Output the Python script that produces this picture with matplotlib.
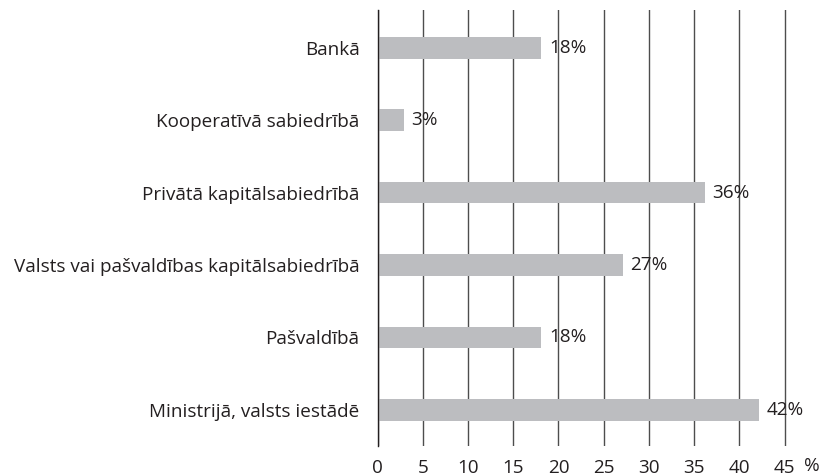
import matplotlib.pyplot as plt

# dati
kategorijas = ['Bankā', 'Kooperatīvā sabiedrībā', 'Privātā kapitālsabiedrībā',
               'Valsts vai pašvaldības kapitālsabiedrībā', 'Pašvaldībā',
               'Ministrijā, valsts iestādē']
vertibas = [18.1, 2.9, 36.2, 27.1, 18.1, 42.2]
etiketes = ['18%', '3%', '36%', '27%', '18%', '42%']
x_ticks = [0, 5, 10, 15, 20, 25, 30, 35, 40, 45]

plt.rcParams['font.family'] = ['Open Sans', 'DejaVu Sans']
fs = 13.6

fig = plt.figure(figsize=(8.19, 4.75), dpi=100)
ax = fig.add_axes([0.461, 0.061, 0.508, 0.918])

y = list(range(len(kategorijas)))[::-1]
ax.barh(y, vertibas, height=0.30, color='#bcbdc0', zorder=2)

for yi, v, t in zip(y, vertibas, etiketes):
    ax.text(v + 0.85, yi, t, va='center', ha='left', fontsize=fs, color='#231f20', zorder=3)

ax.set_xlim(0, 46)
ax.set_ylim(-0.5, 5.52)
ax.set_yticks(y)
ax.set_yticklabels(kategorijas, fontsize=fs, color='#231f20')
ax.set_xticks(x_ticks)
ax.set_xticklabels([str(t) for t in x_ticks], fontsize=fs, color='#231f20')
ax.tick_params(length=0, pad=13)
ax.tick_params(axis='x', pad=9)

ax.xaxis.grid(True, color='#4d4d4d', linewidth=1.0, zorder=1)
for s in ['top', 'right', 'bottom']:
    ax.spines[s].set_visible(False)
ax.spines['left'].set_color('#231f20')
ax.spines['left'].set_linewidth(1.0)
ax.set_axisbelow(True)

fig.text(0.982, 0.019, '%', fontsize=fs, color='#231f20', ha='left', va='center')

fig.savefig('out.png', dpi=100)
